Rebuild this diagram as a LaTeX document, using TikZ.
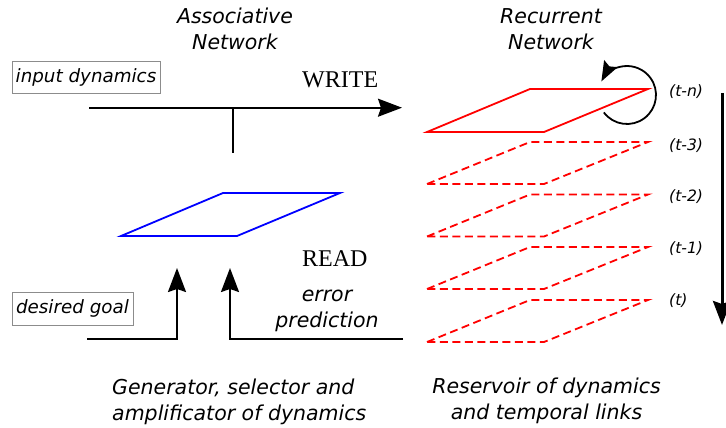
\documentclass[tikz,border=0pt]{standalone}
\usepackage{fontspec}
\setmainfont{DejaVu Sans}
\newfontfamily\serifw{Liberation Serif}
\usetikzlibrary{arrows.meta,calc}
\begin{document}
\begin{tikzpicture}[x=1pt,y=-1pt,
  title/.style={font=\fontsize{20.5}{26}\selectfont\itshape, inner sep=0pt, align=center, anchor=north},
  boxlab/.style={draw=black!45, line width=0.8pt, font=\fontsize{18.3}{22}\selectfont\itshape,
    inner sep=0pt, text height=14pt, text depth=4.3pt},
  rw/.style={font=\fontsize{24}{28}\selectfont\serifw, inner sep=0pt, anchor=base west},
  tlab/.style={font=\fontsize{15.6}{18}\selectfont\itshape, inner sep=0pt, anchor=base west},
  conn/.style={line width=2pt},
  arr/.style={line width=2pt, -{Stealth[length=24pt,width=18pt,inset=3pt]}},
  thickarr/.style={line width=3pt, -{Stealth[length=24pt,width=18pt,inset=3pt]}},
  loopy/.style={line width=1.8pt, -{Stealth[length=20pt,width=15pt,inset=3pt]}},
  redsolid/.style={red, line width=1.8pt, line join=miter},
  reddash/.style={red, line width=1.8pt, dash pattern=on 8pt off 4.5pt},
  blueplane/.style={blue, line width=1.8pt}
]
\fill[white] (0,0) rectangle (726,428);
\useasboundingbox (0,0) rectangle (726,428);

% titles
\node[title] (assoc) at (235,7.4) {Associative\\Network};
\node[title] (recur) at (551,8.1) {Recurrent\\Network};

% boxes
\node[boxlab, minimum width=148pt, minimum height=32pt] (input) at (86,77.5) {input dynamics};
\node[boxlab, minimum width=121pt, minimum height=33pt] (goal) at (72.5,309) {desired goal};

% WRITE / READ
\node[rw] (write) at (302,88) {WRITE};
\node[rw] (read) at (302,266) {READ};

% error prediction
\node[title] (err) at (327,289.8) {error\\prediction};

% bottom captions
\node[title, align=left, anchor=north west] (gen) at (112,378.4) {Generator, selector and\\amplificator of dynamics};
\node[title] (res) at (546.5,377.4) {Reservoir of dynamics\\and temporal links};

% WRITE arrow with T junction
\coordinate (w0) at (89,107.7);
\coordinate (w1) at (402,107.7);
\coordinate (wt) at (233,107.7);
\coordinate (wb) at (233,153);
\draw[arr] (w0) -- (w1);
\draw[conn] (wt) -- (wb);

% blue plane (associative network)
\draw[blueplane] (121,236) -- (223,193) -- (340,193) -- (237,236) -- cycle;

% up arrows
\coordinate (g0) at (87,339);
\coordinate (g1) at (177,268);
\coordinate (e0) at (403,339);
\coordinate (e1) at (230,268);
\draw[arr] (g0) -| (g1);
\draw[arr] (e0) -| (e1);

% red planes
\draw[redsolid] (427,132) -- (530,89) -- (648,89) -- (544,132) -- cycle;
\foreach \t in {142,194.5,247,300}{
  \draw[reddash] (427,\t+42) -- (530,\t) -- (648,\t) -- (544,\t+42) -- cycle;
}

% time labels
\node[tlab] (tn) at (669,96) {(t-n)};
\node[tlab] (t3) at (669,150) {(t-3)};
\node[tlab] (t2) at (669,201.5) {(t-2)};
\node[tlab] (t1) at (669,253) {(t-1)};
\node[tlab] (t0) at (669,305) {(t)};

% recurrent loop
\coordinate (lc) at (627,95);
\draw[loopy] ($(lc)+(143:29)$) arc[start angle=143, end angle=-152, radius=29];

% time arrow
\coordinate (ta) at (722,93);
\coordinate (tb) at (722,325);
\draw[thickarr] (ta) -- (tb);
\end{tikzpicture}
\end{document}
